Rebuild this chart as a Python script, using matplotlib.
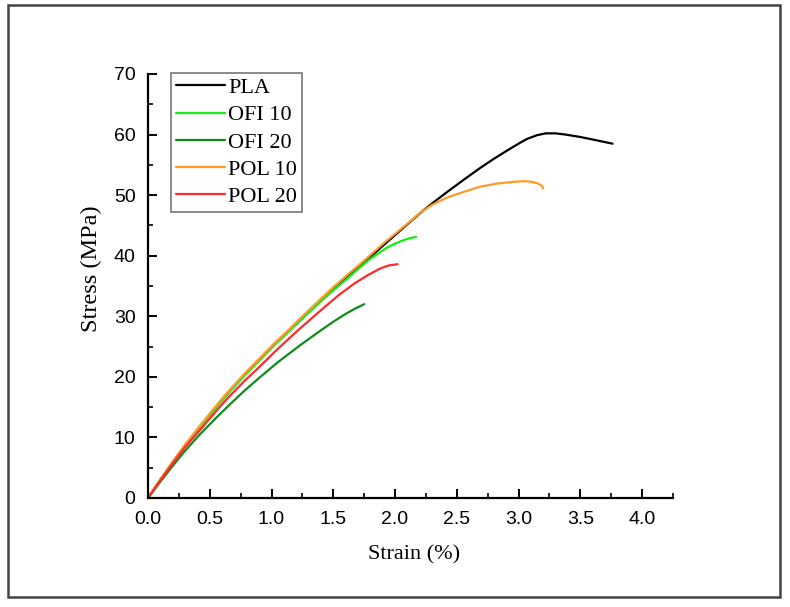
import matplotlib
matplotlib.use("Agg")
import matplotlib.pyplot as plt
from matplotlib.patches import Rectangle
from matplotlib.ticker import MultipleLocator

# Data
pla_strain = [0.0, 0.1, 0.2, 0.3, 0.42, 0.55, 0.65, 0.78, 0.91, 1.03, 1.15, 1.28, 1.40, 1.50, 1.60, 1.75, 1.91, 2.10, 2.23, 2.33, 2.42, 2.56, 2.69, 2.80, 2.91, 3.00, 3.07, 3.15, 3.22, 3.30, 3.38, 3.50, 3.62, 3.76]
pla_stress = [0.0, 3.0, 5.9, 8.7, 11.8, 15.0, 17.4, 20.3, 23.0, 25.5, 27.8, 30.3, 32.6, 34.4, 36.2, 38.9, 41.8, 45.2, 47.5, 49.1, 50.5, 52.6, 54.5, 56.0, 57.4, 58.5, 59.3, 59.9, 60.2, 60.2, 60.0, 59.6, 59.1, 58.5]

ofi10_strain = [0.0, 0.1, 0.2, 0.3, 0.42, 0.55, 0.65, 0.78, 0.91, 1.03, 1.15, 1.28, 1.40, 1.50, 1.60, 1.70, 1.80, 1.88, 1.94, 2.00, 2.06, 2.12, 2.17]
ofi10_stress = [0.0, 3.0, 5.9, 8.6, 11.7, 14.9, 17.3, 20.2, 22.9, 25.4, 27.7, 30.2, 32.5, 34.3, 36.0, 37.8, 39.5, 40.6, 41.4, 42.0, 42.5, 42.9, 43.1]

ofi20_strain = [0.0, 0.1, 0.2, 0.3, 0.42, 0.55, 0.65, 0.78, 0.91, 1.05, 1.23, 1.38, 1.50, 1.60, 1.68, 1.75]
ofi20_stress = [0.0, 2.7, 5.3, 7.8, 10.5, 13.2, 15.2, 17.7, 20.0, 22.4, 25.2, 27.4, 29.1, 30.4, 31.3, 32.0]

pol10_strain = [0.0, 0.1, 0.2, 0.3, 0.42, 0.55, 0.65, 0.78, 0.91, 1.03, 1.15, 1.28, 1.40, 1.50, 1.60, 1.75, 1.91, 2.10, 2.21, 2.30, 2.42, 2.55, 2.69, 2.82, 2.96, 3.05, 3.11, 3.16, 3.19, 3.20]
pol10_stress = [0.0, 3.1, 6.0, 8.8, 11.9, 15.2, 17.6, 20.5, 23.2, 25.7, 28.0, 30.6, 32.9, 34.8, 36.6, 39.2, 42.1, 45.3, 47.2, 48.4, 49.6, 50.5, 51.4, 51.9, 52.2, 52.3, 52.2, 51.9, 51.5, 51.1]

pol20_strain = [0.0, 0.1, 0.2, 0.3, 0.42, 0.55, 0.65, 0.78, 0.91, 1.05, 1.22, 1.40, 1.55, 1.67, 1.78, 1.88, 1.95, 2.02]
pol20_stress = [0.0, 2.9, 5.7, 8.4, 11.2, 14.3, 16.6, 19.3, 21.8, 24.6, 27.8, 31.0, 33.6, 35.4, 36.8, 37.9, 38.4, 38.6]

labels = ["PLA", "OFI 10", "OFI 20", "POL 10", "POL 20"]
colors = ["#000000", "#11ee11", "#0c8c1c", "#ff9a2a", "#ff2a2a"]

fig = plt.figure(figsize=(7.9, 6.07), dpi=100)
ax = fig.add_axes([148/790, 1 - 498/607, (673 - 148)/790, (498 - 74)/607])

series = [(pla_strain, pla_stress), (ofi10_strain, ofi10_stress), (ofi20_strain, ofi20_stress),
          (pol10_strain, pol10_stress), (pol20_strain, pol20_stress)]
for (xs, ys), lab, col in zip(series, labels, colors):
    ax.plot(xs, ys, color=col, lw=1.6, label=lab, solid_capstyle="round",
            solid_joinstyle="round")

ax.set_xlim(0, 4.25)
ax.set_ylim(0, 70)
ax.xaxis.set_major_locator(MultipleLocator(0.5))
ax.xaxis.set_minor_locator(MultipleLocator(0.25))
ax.yaxis.set_major_locator(MultipleLocator(10))
ax.yaxis.set_minor_locator(MultipleLocator(5))
ax.set_xticks([0, 0.5, 1.0, 1.5, 2.0, 2.5, 3.0, 3.5, 4.0])
ax.set_xticklabels(["0.0", "0.5", "1.0", "1.5", "2.0", "2.5", "3.0", "3.5", "4.0"])

for s in ["top", "right"]:
    ax.spines[s].set_visible(False)
for s in ["left", "bottom"]:
    ax.spines[s].set_linewidth(1.6)

ax.tick_params(which="major", direction="in", length=6.5, width=1.4,
               labelsize=14)
ax.tick_params(axis="x", which="major", pad=9)
ax.tick_params(axis="y", which="major", pad=9)
ax.tick_params(which="minor", direction="in", length=3.5, width=1.2)
for t in ax.get_xticklabels() + ax.get_yticklabels():
    t.set_fontfamily("Liberation Sans")

ax.set_xlabel("Strain (%)", family="Liberation Serif", fontsize=16, labelpad=10)
ax.xaxis.set_label_coords(0.507, -0.112)
ax.set_ylabel("Stress (MPa)", family="Liberation Serif", fontsize=17.5, labelpad=12)
ax.yaxis.set_label_coords(-0.088, 0.54)

leg = ax.legend(loc="upper left", bbox_to_anchor=(0.044, 1.003), frameon=True,
                fancybox=False, edgecolor="#777777", framealpha=1,
                prop={"family": "Liberation Serif", "size": 16},
                handlelength=2.2, handletextpad=0.15, labelspacing=0.3,
                borderpad=0.22, borderaxespad=0)
leg.get_frame().set_linewidth(1.2)

fig.patches.append(Rectangle((8/790, 1 - 597/607), (780 - 8)/790, (597 - 5)/607,
                             transform=fig.transFigure, fill=False,
                             edgecolor="#444444", linewidth=1.8))

fig.savefig("out.png", dpi=100, facecolor="white")
